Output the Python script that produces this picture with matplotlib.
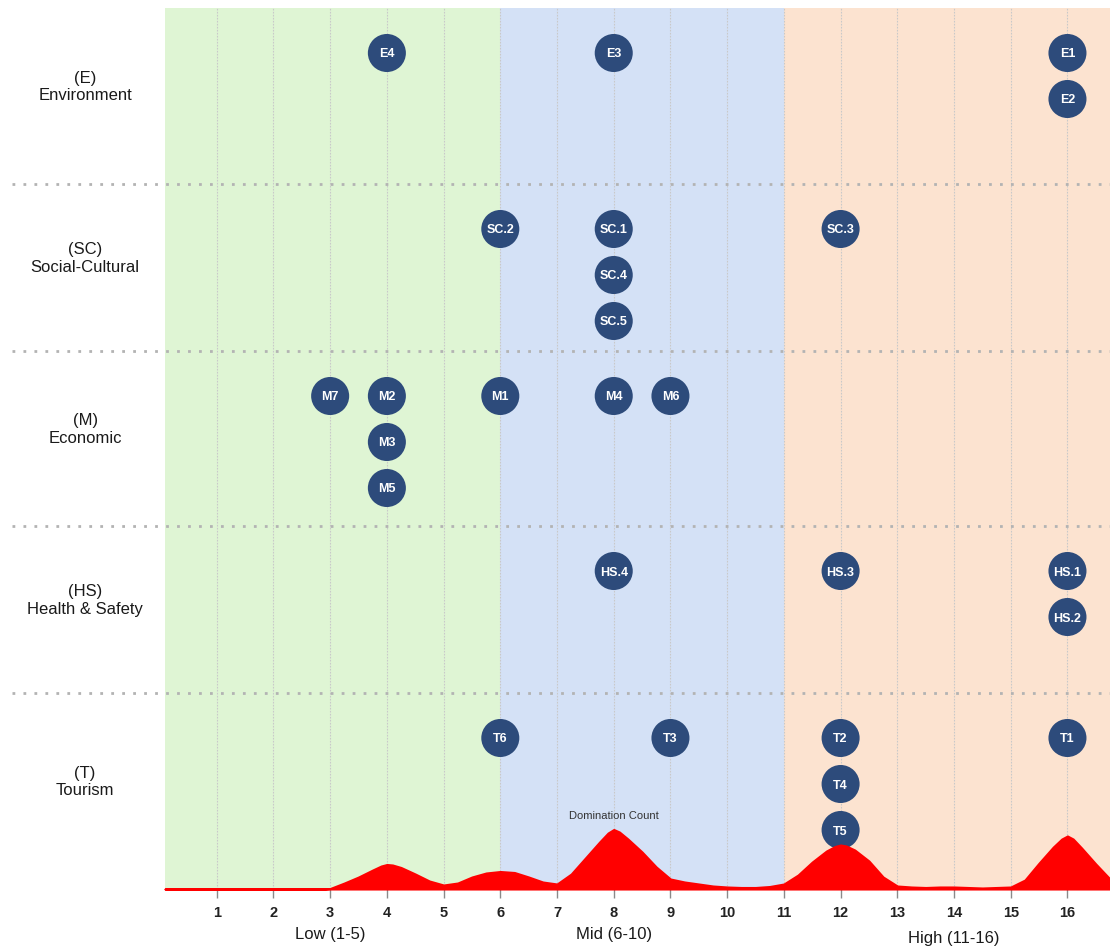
import matplotlib
matplotlib.use("Agg")
import matplotlib.pyplot as plt
import numpy as np

plt.rcParams['font.family'] = ['Liberation Sans', 'DejaVu Sans']

# Factor groups (rows)
groups = ["E", "SC", "M", "HS", "T"]
group_names = ["Environment", "Social-Cultural", "Economic", "Health & Safety", "Tourism"]

# Factors: code, group, score (order inside a score = stacking order)
factor_codes = ["E4", "E3", "E1", "E2",
                "SC.2", "SC.1", "SC.4", "SC.5", "SC.3",
                "M7", "M2", "M3", "M5", "M1", "M4", "M6",
                "HS.4", "HS.3", "HS.1", "HS.2",
                "T6", "T3", "T2", "T4", "T5", "T1"]
factor_group = ["E", "E", "E", "E",
                "SC", "SC", "SC", "SC", "SC",
                "M", "M", "M", "M", "M", "M", "M",
                "HS", "HS", "HS", "HS",
                "T", "T", "T", "T", "T", "T"]
factor_score = [4, 8, 16, 16,
                6, 8, 8, 8, 12,
                3, 4, 4, 4, 6, 8, 9,
                8, 12, 16, 16,
                6, 9, 12, 12, 12, 16]

# Domination count curve
dens_x = [0.09, 1, 2, 2.9, 3.0, 3.25, 3.5, 3.75, 3.9, 4.0, 4.1, 4.25, 4.5, 4.75, 5.0, 5.25, 5.5,
          5.75, 6.0, 6.25, 6.5, 6.75, 7.0, 7.25, 7.5, 7.75, 7.9, 8.0, 8.1, 8.25, 8.5, 8.75, 9.0,
          9.25, 9.5, 9.75, 10.0, 10.25, 10.5, 10.75, 11.0, 11.25, 11.5, 11.75, 11.9, 12.0, 12.1,
          12.25, 12.5, 12.75, 13.0, 13.25, 13.5, 13.75, 14.0, 14.25, 14.5, 14.75, 15.0,
          15.25, 15.5, 15.75, 15.9, 16.0, 16.1, 16.25, 16.5, 16.75]
dens_y = [0, 0, 0, 0, 0.05, 0.6, 1.2, 1.9, 2.3, 2.45, 2.4, 2.15, 1.5, 0.8, 0.4, 0.6, 1.2,
          1.6, 1.75, 1.65, 1.2, 0.7, 0.5, 1.5, 3.1, 4.7, 5.6, 5.95, 5.7, 5.0, 3.7, 2.2, 1.0,
          0.7, 0.5, 0.3, 0.2, 0.15, 0.15, 0.25, 0.5, 1.4, 2.7, 3.8, 4.25, 4.4, 4.3,
          3.9, 2.8, 1.2, 0.3, 0.2, 0.15, 0.2, 0.2, 0.15, 0.1, 0.15, 0.2,
          0.9, 2.6, 4.2, 5.0, 5.3, 5.0, 4.1, 2.5, 1.0]

# Score bands
band_names = ["Low (1-5)", "Mid (6-10)", "High (11-16)"]
band_edges = [6, 11]
band_label_x = [3, 8, 14]
band_colors = ["#dff5d4", "#d4e1f6", "#fce3d0"]

navy = "#2d4b7b"

fig = plt.figure(figsize=(11.1, 9.47), dpi=100)
ax = fig.add_axes([165 / 1110, 1 - 889 / 947, 945 / 1110, 881 / 947])
x0, x1 = 0.088, 16.75
ax.set_xlim(x0, x1)
ax.set_ylim(881, 0)

# background bands
edges = [x0] + band_edges + [x1]
for i in range(3):
    ax.axvspan(edges[i], edges[i + 1], color=band_colors[i], lw=0, zorder=0)

# vertical grid
for v in range(1, 17):
    ax.axvline(v, color="#c9c9c9", lw=0.8, ls=(0, (1.5, 1.2)), zorder=1)

# row layout (pixel offsets from top of plot)
row_tops = [0, 176, 343, 518, 685]
row_bottoms = row_tops[1:] + [881]
first_off = 45
step = 46

for t in row_tops[1:]:
    ax.plot([-2.61, x1], [t, t], color="#b3b3b3", lw=2, ls=(0, (1, 2.95)),
            clip_on=False, zorder=2)

for g, name, top, bot in zip(groups, group_names, row_tops, row_bottoms):
    ax.text(-1.32, (top + bot) / 2 - 9, "(%s)\n%s" % (g, name), ha="center", va="center",
            fontsize=12, color="#1a1a1a", clip_on=False, multialignment="center")

# stack factors
xs, ys = [], []
seen = {}
for code, g, s in zip(factor_codes, factor_group, factor_score):
    k = seen.get((g, s), 0)
    seen[(g, s)] = k + 1
    xs.append(s)
    ys.append(row_tops[groups.index(g)] + first_off + k * step)

ax.scatter(xs, ys, s=750, c=navy, edgecolors="none", zorder=5)
for code, x, y in zip(factor_codes, xs, ys):
    ax.text(x, y, code, ha="center", va="center_baseline", color="white", fontsize=9,
            fontweight="bold", zorder=6)

# domination count curve
dax = ax.inset_axes([0, 0, 1, 100 / 881])
dax.set_xlim(x0, x1)
dax.set_ylim(0, 10)
dax.fill_between(dens_x, dens_y, 0, color="red", edgecolor="red", lw=1.5, clip_on=False)
dax.axis("off")
dax.text(8, 7.3, "Domination Count", ha="center", va="center", fontsize=8, color="#333333")

# axis
for sp in ax.spines.values():
    sp.set_visible(False)
ax.set_yticks([])
ax.set_xticks(range(1, 17))
ax.set_xticklabels([str(i) for i in range(1, 17)], fontweight="bold", fontsize=10.5, color="#222222")
ax.tick_params(axis="x", length=6.5, width=1, color="#8a8a8a", pad=6)

band_label_y = [13, 13, 9]
for name, bx, by in zip(band_names, band_label_x, band_label_y):
    ax.annotate(name, xy=(bx, by), xycoords=("data", "figure pixels"), ha="center",
                va="center", fontsize=12, color="#1a1a1a", annotation_clip=False)

fig.savefig("out.png", dpi=100)
